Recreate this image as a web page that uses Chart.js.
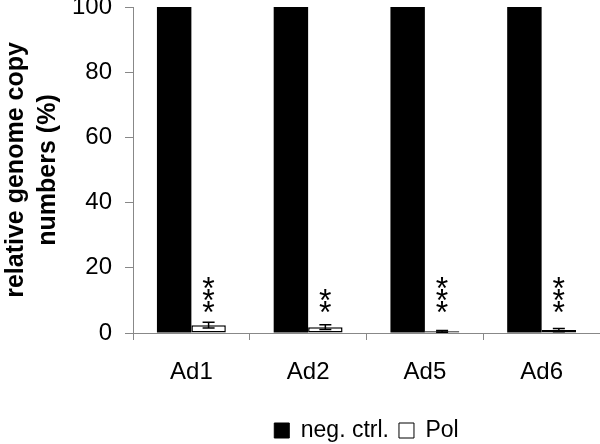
<!DOCTYPE html>
<html>
<head>
<meta charset="utf-8">
<script src="https://cdn.jsdelivr.net/npm/chart.js@4/dist/chart.umd.min.js"></script>
<style>
html,body{margin:0;padding:0;background:#fff;}
#wrap{width:600px;height:444px;position:relative;}
</style>
</head>
<body>
<div id="wrap"><canvas id="c" width="600" height="444"></canvas></div>
<script>
const categories = ['Ad1', 'Ad2', 'Ad5', 'Ad6'];
const negCtrl = [100, 100, 100, 100];
const pol = [2.4, 1.8, 0.5, 0.9];
const polError = [0.9, 0.7, 0.3, 0.5];
const significance = ['***', '**', '***', '***'];
const yTicks = [0, 20, 40, 60, 80, 100];

const FONT = "'Liberation Sans', Arial, sans-serif";

const errorBarPlugin = {
  id: 'errorBars',
  afterDatasetsDraw(chart) {
    const ctx = chart.ctx;
    const meta = chart.getDatasetMeta(1);
    const y = chart.scales.y;
    ctx.save();
    ctx.strokeStyle = '#000';
    ctx.lineWidth = 1.5;
    meta.data.forEach((bar, i) => {
      const v = pol[i], e = polError[i];
      const x = bar.x;
      const yTop = y.getPixelForValue(v + e);
      const yBot = y.getPixelForValue(Math.max(0, v - e));
      ctx.beginPath();
      ctx.moveTo(x, yTop); ctx.lineTo(x, yBot);
      ctx.moveTo(x - 6, yTop); ctx.lineTo(x + 6, yTop);
      ctx.moveTo(x - 6, yBot); ctx.lineTo(x + 6, yBot);
      ctx.stroke();
    });
    // significance stars
    ctx.fillStyle = '#000';
    ctx.font = '32px ' + FONT;
    ctx.textAlign = 'center';
    ctx.textBaseline = 'alphabetic';
    const m = ctx.measureText('*');
    const asc = m.actualBoundingBoxAscent, desc = m.actualBoundingBoxDescent;
    meta.data.forEach((bar, i) => {
      const n = significance[i].length;
      const baseY = y.getPixelForValue(8);
      for (let k = 0; k < n; k++) {
        const cy = baseY - k * 12;
        ctx.fillText('*', bar.x, cy + (asc - desc) / 2);
      }
    });
    ctx.restore();
  }
};

new Chart(document.getElementById('c'), {
  type: 'bar',
  data: {
    labels: categories,
    datasets: [
      { label: 'neg. ctrl.', data: negCtrl, backgroundColor: '#000', borderColor: '#000', borderWidth: 0,
        categoryPercentage: 0.59, barPercentage: 1.0 },
      { label: 'Pol', data: pol, backgroundColor: '#fff', borderColor: '#000', borderWidth: 1.5,
        borderSkipped: false, categoryPercentage: 0.59, barPercentage: 1.0 }
    ]
  },
  options: {
    responsive: false,
    animation: false,
    devicePixelRatio: 1,
    layout: { padding: { top: 7, right: 0, left: 0, bottom: -8 } },
    plugins: {
      legend: {
        position: 'bottom',
        fullSize: false,
        labels: {
          font: { family: FONT, size: 23 },
          color: '#000',
          boxWidth: 15, boxHeight: 15,
          padding: 10,
          generateLabels(chart) {
            return chart.data.datasets.map((d, i) => ({
              text: d.label,
              fillStyle: d.backgroundColor,
              strokeStyle: '#000',
              lineWidth: 1,
              fontColor: '#000',
              datasetIndex: i,
              hidden: false
            }));
          }
        }
      },
      tooltip: { enabled: false }
    },
    scales: {
      x: {
        offset: true,
        afterFit(scale) { scale.height = 76; scale.paddingLeft = 0; scale.paddingRight = 0; },
        grid: { display: true, drawOnChartArea: false, offset: true, tickLength: 7, color: '#888', lineWidth: 1 },
        border: { display: true, color: '#888', width: 1 },
        ticks: { font: { family: FONT, size: 24 }, color: '#000', padding: 18 }
      },
      y: {
        min: 0, max: 100,
        afterBuildTicks(scale) { scale.ticks = yTicks.map(v => ({ value: v })); },
        afterFit(scale) { scale.width = 133; scale.paddingTop = 0; scale.paddingBottom = 0; },
        grid: { display: true, drawOnChartArea: false, tickLength: 8, color: '#888', lineWidth: 1 },
        border: { display: true, color: '#888', width: 1 },
        ticks: { font: { family: FONT, size: 24 }, color: '#000', padding: 13 },
        title: {
          display: true,
          text: ['relative genome copy', 'numbers (%)'],
          font: { family: FONT, size: 25, weight: 'bold', lineHeight: 1.28 },
          color: '#000',
          padding: { top: 0, bottom: 4 }
        }
      }
    }
  },
  plugins: [errorBarPlugin]
});
</script>
</body>
</html>
